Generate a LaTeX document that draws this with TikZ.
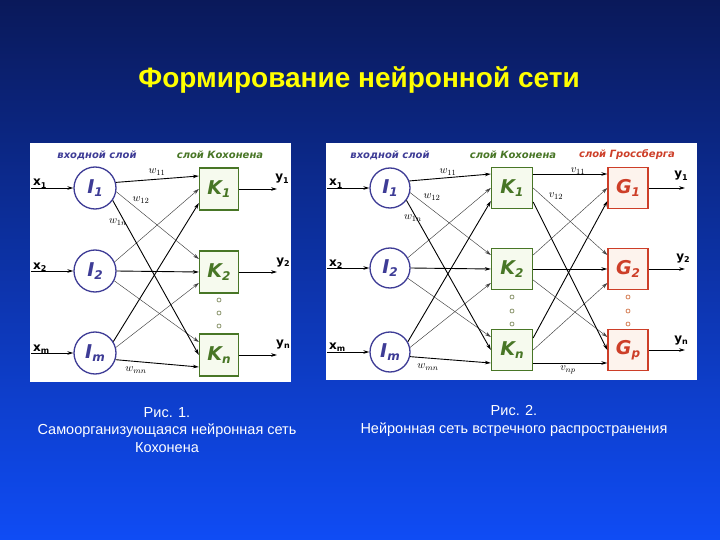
\documentclass[tikz,border=0pt]{standalone}
\usepackage{fontspec}
\setmainfont{Liberation Sans}
\newfontfamily\lblfont{DejaVu Sans}
\usepackage{xcolor}
\usetikzlibrary{arrows.meta, calc}
\definecolor{bgtop}{RGB}{10,25,90}
\definecolor{bgbot}{RGB}{15,76,245}
\definecolor{titleyellow}{RGB}{255,255,0}
\definecolor{inblue}{RGB}{62,60,150}
\definecolor{kohgreen}{RGB}{72,118,38}
\definecolor{kohfill}{RGB}{246,250,238}
\definecolor{grossred}{RGB}{205,62,40}
\definecolor{grossfill}{RGB}{253,243,237}
\definecolor{dotgray}{RGB}{140,150,110}
\definecolor{dotorange}{RGB}{215,130,90}

\newcommand{\lowix}[1]{\raisebox{-0.3ex}{\fontsize{12}{12}\selectfont #1}}
\newcommand{\smix}[1]{\raisebox{-0.45ex}{\fontsize{8}{8}\selectfont #1}}

\tikzset{
  inode/.style={circle, draw=inblue, line width=1.3pt, minimum size=42pt, inner sep=0pt,
    text=inblue, font=\lblfont\bfseries\itshape\fontsize{19}{19}\selectfont},
  knode/.style={rectangle, draw=kohgreen, fill=kohfill, line width=1.3pt, minimum width=39pt,
    minimum height=42pt, inner sep=0pt, text=kohgreen, font=\lblfont\bfseries\itshape\fontsize{19}{19}\selectfont},
  gnode/.style={knode, draw=grossred, fill=grossfill, text=grossred},
  wire/.style={-{Stealth[length=6pt,width=3.6pt]}, line width=0.9pt},
  thinwire/.style={wire, line width=0.45pt, black!75},
  wlabel/.style={font=\fontsize{11}{11}\selectfont, inner sep=0pt},
  layerlabel/.style={font=\lblfont\bfseries\itshape\fontsize{10}{10}\selectfont, inner sep=0pt},
  sigl/.style={font=\lblfont\bfseries\fontsize{12}{12}\selectfont, inner sep=0pt},
  vdot/.style={circle, line width=0.8pt, minimum size=4pt, inner sep=0pt},
  caption/.style={font=\fontsize{14.5}{17.5}\selectfont, text=white, align=center, inner sep=0pt}
}

\begin{document}
\begin{tikzpicture}[x=1pt, y=-1pt]
  \useasboundingbox (0,0) rectangle (720,540);
  \shade[top color=bgtop, bottom color=bgbot] (0,0) rectangle (720,540);

  % title
  \node[font=\bfseries\fontsize{28}{28}\selectfont, text=titleyellow] (title) at (359,80) {Формирование нейронной сети};

  % panels
  \fill[white] (30,143) rectangle (291,382);
  \fill[white] (326,143) rectangle (697,380);

  % ---- Fig. 1: Kohonen network ----
  \node[layerlabel, text=inblue] (Lin) at (97,155) {входной слой};
  \node[layerlabel, text=kohgreen] (Lkoh) at (220,155) {слой Кохонена};

  \node[inode] (LI1) at (95,188) {I\lowix{1}};
  \node[inode] (LI2) at (95,271) {I\lowix{2}};
  \node[inode] (LIm) at (95,353) {I\lowix{m}};

  \node[knode] (LK1) at (219,189) {K\lowix{1}};
  \node[knode] (LK2) at (219,272) {K\lowix{2}};
  \node[knode] (LKn) at (219,355) {K\lowix{n}};
  \foreach \yy in {300,313,326}
    \node[vdot, draw=dotgray] (Ldot\yy) at (219,\yy) {};

  \coordinate (Lx1) at (31,188);
  \coordinate (Lx2) at (31,271);
  \coordinate (Lxm) at (31,353);
  \draw[wire] (Lx1) -- (LI1);
  \draw[wire] (Lx2) -- (LI2);
  \draw[wire] (Lxm) -- (LIm);
  \node[sigl, anchor=base west] (Lx1lab) at (33,186) {x\smix{1}};
  \node[sigl, anchor=base west] (Lx2lab) at (33,269) {x\smix{2}};
  \node[sigl, anchor=base west] (Lxmlab) at (33,351) {x\smix{m}};

  \coordinate (Ly1) at (277,189);
  \coordinate (Ly2) at (277,272);
  \coordinate (Lyn) at (277,355);
  \draw[wire] (LK1) -- (Ly1);
  \draw[wire] (LK2) -- (Ly2);
  \draw[wire] (LKn) -- (Lyn);
  \node[sigl, anchor=base] (Ly1lab) at (282,181) {y\smix{1}};
  \node[sigl, anchor=base] (Ly2lab) at (283,264) {y\smix{2}};
  \node[sigl, anchor=base] (Lynlab) at (283,346) {y\smix{n}};

  \draw[wire] (LI1.15) -- ([yshift=13pt]LK1.west);
  \draw[thinwire] (LI2.25) -- (LK1.west);
  \draw[wire] (LIm.32) -- ([yshift=-14pt]LK1.west);
  \draw[thinwire] (LI1.-10) -- ([yshift=13pt]LK2.west);
  \draw[wire] (LI2.0) -- (LK2.west);
  \draw[thinwire] (LIm.15) -- ([yshift=-11pt]LK2.west);
  \draw[thinwire] (LI2.-27) -- ([yshift=13pt]LKn.west);
  \draw[wire] (LI1.-35) -- (LKn.west);
  \draw[wire] (LIm.-18) -- ([yshift=-12pt]LKn.west);

  \node[wlabel] (Lw11) at (157,172) {$w_{11}$};
  \node[wlabel] (Lw12) at (141,200) {$w_{12}$};
  \node[wlabel] (Lw1n) at (118,222) {$w_{1n}$};
  \node[wlabel] (Lwmn) at (136,370) {$w_{mn}$};

  % ---- Fig. 2: counterpropagation network ----
  \node[layerlabel, text=inblue] (Rin) at (390,155) {входной слой};
  \node[layerlabel, text=kohgreen] (Rkoh) at (513,155) {слой Кохонена};
  \node[layerlabel, text=grossred] (Rgro) at (627,155) {слой Гроссберга};

  \node[inode, minimum size=40pt] (RI1) at (390,188) {I\lowix{1}};
  \node[inode, minimum size=40pt] (RI2) at (390,268) {I\lowix{2}};
  \node[inode, minimum size=40pt] (RIm) at (390,352) {I\lowix{m}};

  \node[knode, minimum width=41pt, minimum height=41pt] (RK1) at (512,188) {K\lowix{1}};
  \node[knode, minimum width=41pt, minimum height=41pt] (RK2) at (512,269) {K\lowix{2}};
  \node[knode, minimum width=41pt, minimum height=41pt] (RKn) at (512,350) {K\lowix{n}};

  \node[gnode, minimum width=40pt, minimum height=41pt] (RG1) at (628,188) {G\lowix{1}};
  \node[gnode, minimum width=40pt, minimum height=41pt] (RG2) at (628,269) {G\lowix{2}};
  \node[gnode, minimum width=40pt, minimum height=41pt] (RGp) at (628,350) {G\lowix{p}};

  \foreach \yy in {297,311,324}{
    \node[vdot, draw=dotgray] (RKdot\yy) at (512,\yy) {};
    \node[vdot, draw=dotorange] (RGdot\yy) at (628,\yy) {};
  }

  \coordinate (Rx1) at (327,188);
  \coordinate (Rx2) at (327,268);
  \coordinate (Rxm) at (327,352);
  \draw[wire] (Rx1) -- (RI1);
  \draw[wire] (Rx2) -- (RI2);
  \draw[wire] (Rxm) -- (RIm);
  \node[sigl, anchor=base west] (Rx1lab) at (329,186) {x\smix{1}};
  \node[sigl, anchor=base west] (Rx2lab) at (329,266) {x\smix{2}};
  \node[sigl, anchor=base west] (Rxmlab) at (329,349) {x\smix{m}};

  \coordinate (Ry1) at (685,188);
  \coordinate (Ry2) at (685,269);
  \coordinate (Ryn) at (685,350);
  \draw[wire] (RG1) -- (Ry1);
  \draw[wire] (RG2) -- (Ry2);
  \draw[wire] (RGp) -- (Ryn);
  \node[sigl, anchor=base] (Ry1lab) at (681,178) {y\smix{1}};
  \node[sigl, anchor=base] (Ry2lab) at (683,260) {y\smix{2}};
  \node[sigl, anchor=base] (Rynlab) at (681,342) {y\smix{n}};

  % input -> Kohonen
  \draw[wire] (RI1.20) -- ([yshift=14pt]RK1.west);
  \draw[thinwire] (RI2.30) -- (RK1.west);
  \draw[wire] (RIm.30) -- ([yshift=-13pt]RK1.west);
  \draw[thinwire] (RI1.-13) -- ([yshift=14pt]RK2.west);
  \draw[wire] (RI2.0) -- (RK2.west);
  \draw[thinwire] (RIm.13) -- ([yshift=-14pt]RK2.west);
  \draw[thinwire] (RI2.-30) -- ([yshift=13pt]RKn.west);
  \draw[wire] (RI1.-37) -- (RKn.west);
  \draw[wire] (RIm.-13) -- ([yshift=-13pt]RKn.west);

  % Kohonen -> Grossberg
  \draw[wire] ([yshift=14pt]RK1.east) -- ([yshift=14pt]RG1.west);
  \draw[thinwire] ([yshift=14pt]RK2.east) -- (RG1.west);
  \draw[wire] ([yshift=12pt]RKn.east) -- ([yshift=-13pt]RG1.west);
  \draw[thinwire] (RK1.east) -- ([yshift=14pt]RG2.west);
  \draw[wire] (RK2.east) -- (RG2.west);
  \draw[thinwire] (RKn.east) -- ([yshift=-14pt]RG2.west);
  \draw[thinwire] ([yshift=-11pt]RK2.east) -- ([yshift=13pt]RGp.west);
  \draw[wire] ([yshift=-14pt]RK1.east) -- (RGp.west);
  \draw[wire] ([yshift=-13pt]RKn.east) -- ([yshift=-13pt]RGp.west);

  \node[wlabel] (Rw11) at (448,172) {$w_{11}$};
  \node[wlabel] (Rw12) at (432,197) {$w_{12}$};
  \node[wlabel] (Rw1n) at (413,218) {$w_{1n}$};
  \node[wlabel] (Rwmn) at (428,367) {$w_{mn}$};
  \node[wlabel] (Rv11) at (578,171) {$v_{11}$};
  \node[wlabel] (Rv12) at (556,196) {$v_{12}$};
  \node[wlabel] (Rvnp) at (568,370) {$v_{np}$};

  % captions
  \node[caption] (cap1) at (167,430) {Рис. 1.\\Самоорганизующаяся нейронная сеть\\Кохонена};
  \node[caption] (cap2) at (514,421) {Рис. 2.\\Нейронная сеть встречного распространения};
\end{tikzpicture}
\end{document}
